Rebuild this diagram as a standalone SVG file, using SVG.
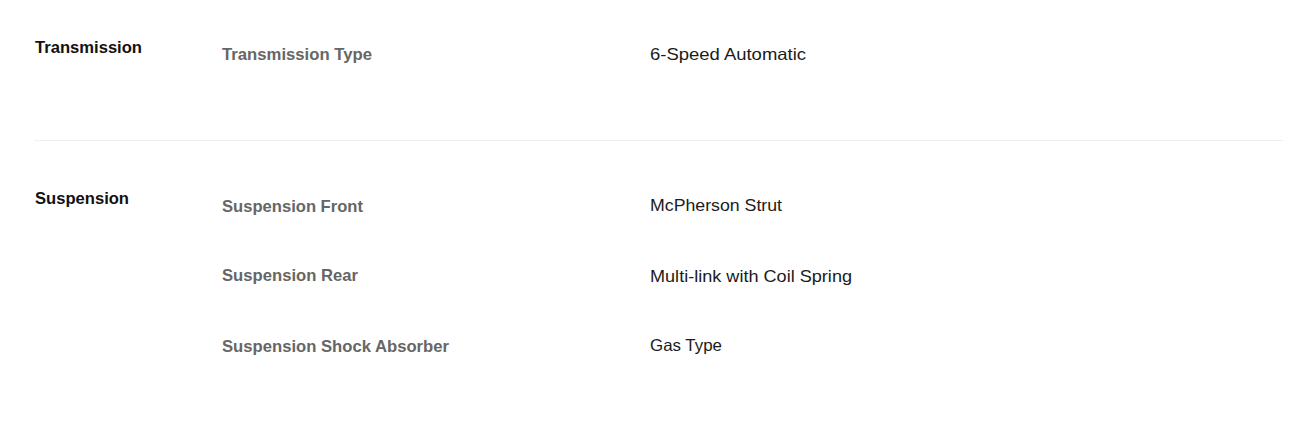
<svg xmlns="http://www.w3.org/2000/svg" width="1315" height="427" viewBox="0 0 1315 427">
<style>
text{font-family:"Liberation Sans",Arial,sans-serif;font-size:16.5px}
.cat{font-weight:bold;fill:#111111}
.lab{font-weight:bold;fill:#666666}
.val{fill:#1b1b1b}
.sep{stroke:#f0eeee;stroke-width:1}
</style>
<rect width="1315" height="427" fill="#ffffff"/>
<g id="transmission">
<text class="cat" x="35" y="53" textLength="107" lengthAdjust="spacingAndGlyphs">Transmission</text>
<text class="lab" x="222" y="60" textLength="150" lengthAdjust="spacingAndGlyphs">Transmission Type</text>
<text class="val" x="650" y="60" textLength="156" lengthAdjust="spacingAndGlyphs">6-Speed Automatic</text>
</g>
<line class="sep" x1="34" y1="140.5" x2="1283" y2="140.5"/>
<g id="suspension">
<text class="cat" x="35" y="204" textLength="94" lengthAdjust="spacingAndGlyphs">Suspension</text>
<text class="lab" x="222" y="211.5" textLength="141" lengthAdjust="spacingAndGlyphs">Suspension Front</text>
<text class="val" x="650" y="211" textLength="132" lengthAdjust="spacingAndGlyphs">McPherson Strut</text>
<text class="lab" x="222" y="281" textLength="136" lengthAdjust="spacingAndGlyphs">Suspension Rear</text>
<text class="val" x="650" y="281.5" textLength="202" lengthAdjust="spacingAndGlyphs">Multi-link with Coil Spring</text>
<text class="lab" x="222" y="351.5" textLength="227" lengthAdjust="spacingAndGlyphs">Suspension Shock Absorber</text>
<text class="val" x="650" y="351" textLength="72" lengthAdjust="spacingAndGlyphs">Gas Type</text>
</g>
</svg>
